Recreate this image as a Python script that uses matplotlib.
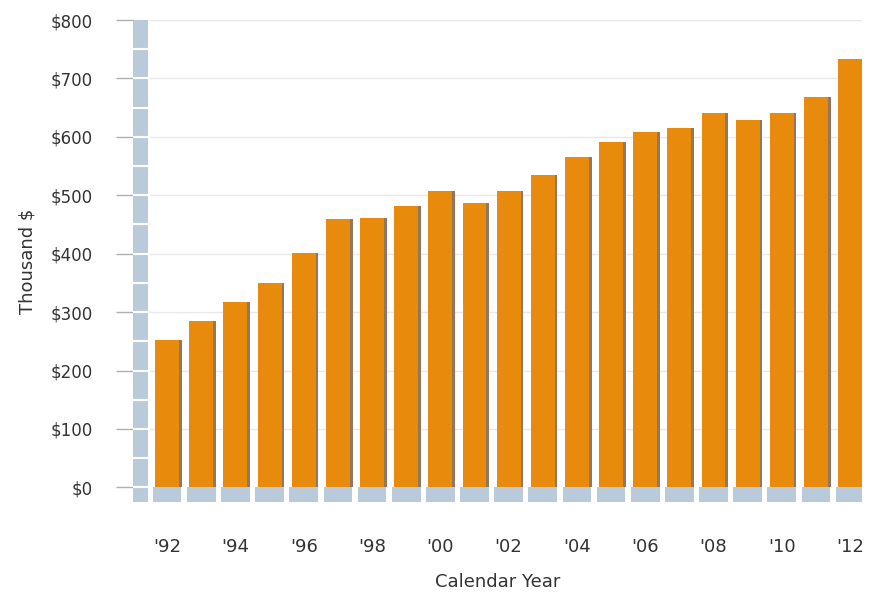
import matplotlib.pyplot as plt
from matplotlib.patches import Rectangle

# valeurs (milliers de $)
annees = list(range(1992, 2013))
valeurs = [252, 284, 317, 350, 401, 459, 461, 482, 507, 487, 508,
           534, 565, 591, 609, 616, 640, 629, 640, 669, 733]
yticks = [0, 100, 200, 300, 400, 500, 600, 700, 800]
xlabels = ["'" + str(a)[2:] for a in annees]

fig = plt.figure(figsize=(8.69, 5.94), dpi=100)
ax = fig.add_axes([133 / 869, 1 - 502 / 594, (862 - 133) / 869, (502 - 20) / 594])
ax.set_xlim(-1.0, 20.35)
ax.set_ylim(-25, 800)

x = list(range(len(annees)))

# grille
for v in yticks[1:]:
    ax.plot([-0.5, 20.35], [v, v], color='#e8e8e8', lw=1, zorder=0)

# mur et sol
mur = '#b9cbdb'
ax.add_patch(Rectangle((-1.0, -25), 0.45, 825, color=mur, lw=0, zorder=1))
for v in range(0, 800, 50):
    ax.plot([-1.0, -0.55], [v, v], color='white', lw=1.5, zorder=2)
for i in x:
    ax.add_patch(Rectangle((i - 0.42, -25), 0.84, 25, color=mur, lw=0, zorder=1))

# barres avec ombre
ax.bar([i + 0.08 for i in x], valeurs, width=0.7, color='#93775c', zorder=2)
ax.bar(x, valeurs, width=0.7, color='#e88a0c', zorder=3)

ax.set_yticks(yticks)
ax.set_yticklabels(['$' + str(v) for v in yticks])
ax.tick_params(axis='y', length=12, width=1, color='#b0b0b0', pad=17,
               labelsize=12, labelcolor='#333333')
ax.set_xticks(x[::2])
ax.set_xticklabels(xlabels[::2])
ax.tick_params(axis='x', length=0, pad=26, labelsize=13, labelcolor='#333333')

for s in ax.spines.values():
    s.set_visible(False)

ax.set_xlabel('Calendar Year', fontsize=13, color='#333333', labelpad=12)
ax.set_ylabel('Thousand $', fontsize=13, color='#333333', labelpad=10)

fig.savefig('out.png', dpi=100)
